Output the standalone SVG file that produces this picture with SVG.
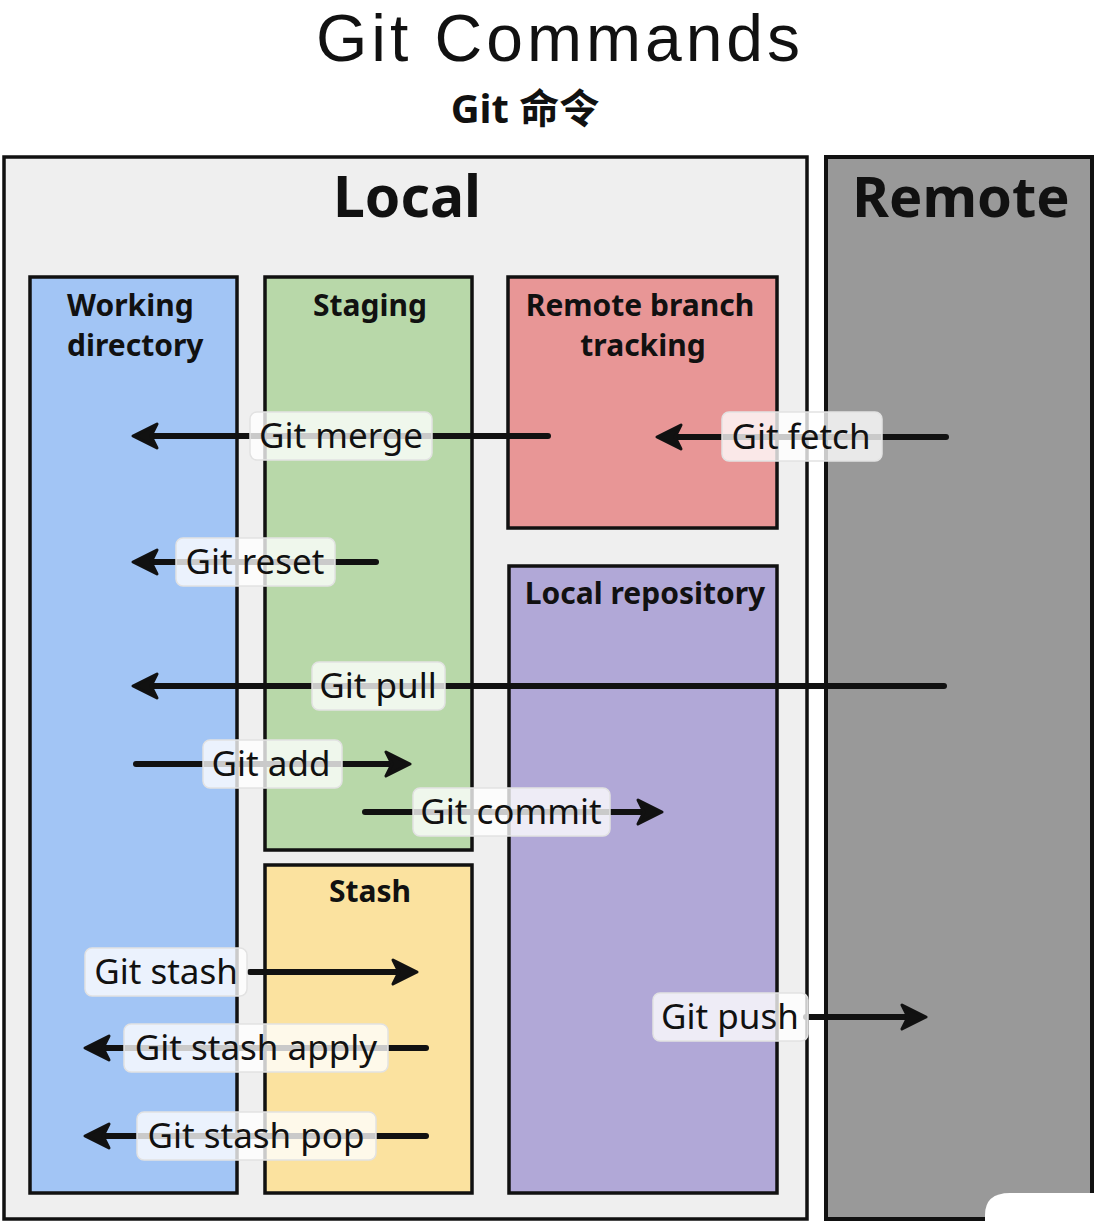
<svg xmlns="http://www.w3.org/2000/svg" width="1100" height="1221" viewBox="0 0 1100 1221">
<defs>
<style>
.ttl{font-family:"Noto Sans","Open Sans",sans-serif;fill:#111;text-anchor:middle}
.hd{font-family:"Noto Sans","Open Sans",sans-serif;font-weight:bold;fill:#111}
.bt{font-family:"Noto Sans","Open Sans",sans-serif;font-weight:bold;font-size:30px;fill:#111;text-anchor:middle}
.box{stroke:#111;stroke-width:3.5}
.lbl rect{fill:#ffffff;fill-opacity:0.78;stroke:#e2e2e2;stroke-width:1.5}
.lbl text{font-family:"Noto Sans","Open Sans",sans-serif;font-size:35px;fill:#111;text-anchor:middle}
.ln{stroke:#111;stroke-width:6;stroke-linecap:round;fill:none}
</style>
<marker id="ah" viewBox="0 0 30 30" markerWidth="30" markerHeight="30" refX="21" refY="15" orient="auto" markerUnits="userSpaceOnUse">
<path d="M3,3 L27,15 L3,27 L9,15 Z" fill="#111" stroke="#111" stroke-width="3" stroke-linejoin="round"/>
</marker>
</defs>
<rect width="1100" height="1221" fill="#ffffff"/>
<g id="title">
<text x="560" y="61" font-size="66" letter-spacing="4" style="font-family:'Liberation Sans',Arial,sans-serif;fill:#111;text-anchor:middle">Git Commands</text>
<text class="ttl" x="525" y="123" font-size="40" font-weight="bold" style="font-family:'Noto Sans','Noto Sans CJK SC',sans-serif">Git 命令</text>
</g>
<g id="local">
<rect x="4" y="157" width="803" height="1062" fill="#efefef" stroke="#111" stroke-width="3.5"/>
<text class="hd" x="407" y="217" font-size="57" text-anchor="middle">Local</text>
</g>
<g id="remote">
<rect x="826" y="157" width="266" height="1062" fill="#999999" stroke="#111" stroke-width="4"/>
<text class="hd" x="961" y="217" font-size="56" text-anchor="middle">Remote</text>
</g>
<g id="working">
<rect class="box" x="30" y="277" width="207" height="916" fill="#a2c5f5"/>
<text class="bt" x="67" y="316" style="text-anchor:start">Working</text>
<text class="bt" x="67" y="356" style="text-anchor:start">directory</text>
</g>
<g id="staging">
<rect class="box" x="265" y="277" width="207" height="573" fill="#b8d8a9"/>
<text class="bt" x="370" y="316">Staging</text>
</g>
<g id="stash">
<rect class="box" x="265" y="865" width="207" height="328" fill="#fbe29f"/>
<text class="bt" x="370" y="902">Stash</text>
</g>
<g id="remote-tracking">
<rect class="box" x="508" y="277" width="269" height="251" fill="#e89696"/>
<text class="bt" x="640" y="316">Remote branch</text>
<text class="bt" x="643" y="356">tracking</text>
</g>
<g id="local-repo">
<rect class="box" x="509" y="566" width="268" height="627" fill="#b1a8d7"/>
<text class="bt" x="645" y="604">Local repository</text>
</g>
<g id="connectors">
<path class="ln" d="M548,436 L139,436" marker-end="url(#ah)"/>
<path class="ln" d="M946,437 L663,437" marker-end="url(#ah)"/>
<path class="ln" d="M376,562 L139,562" marker-end="url(#ah)"/>
<path class="ln" d="M944,686 L139,686" marker-end="url(#ah)"/>
<path class="ln" d="M136,764 L404,764" marker-end="url(#ah)"/>
<path class="ln" d="M365,812 L656,812" marker-end="url(#ah)"/>
<path class="ln" d="M250,972 L411,972" marker-end="url(#ah)"/>
<path class="ln" d="M426,1048 L91,1048" marker-end="url(#ah)"/>
<path class="ln" d="M426,1136 L91,1136" marker-end="url(#ah)"/>
<path class="ln" d="M806,1017 L920,1017" marker-end="url(#ah)"/>
</g>
<g id="labels">
<g class="lbl" id="l-merge"><rect x="250" y="412" width="182" height="48" rx="7"/><text x="341" y="448">Git merge</text></g>
<g class="lbl" id="l-fetch"><rect x="722" y="412" width="160" height="49" rx="7"/><text x="801" y="449">Git fetch</text></g>
<g class="lbl" id="l-reset"><rect x="176" y="538" width="159" height="48" rx="7"/><text x="255" y="574">Git reset</text></g>
<g class="lbl" id="l-pull"><rect x="312" y="662" width="133" height="48" rx="7"/><text x="378" y="698">Git pull</text></g>
<g class="lbl" id="l-add"><rect x="203" y="740" width="139" height="48" rx="7"/><text x="271" y="776">Git add</text></g>
<g class="lbl" id="l-commit"><rect x="413" y="788" width="197" height="48" rx="7"/><text x="511" y="824">Git commit</text></g>
<g class="lbl" id="l-stash"><rect x="85" y="948" width="162" height="48" rx="7"/><text x="166" y="984">Git stash</text></g>
<g class="lbl" id="l-apply"><rect x="124" y="1024" width="264" height="48" rx="7"/><text x="256" y="1060">Git stash apply</text></g>
<g class="lbl" id="l-pop"><rect x="137" y="1112" width="239" height="48" rx="7"/><text x="256" y="1148">Git stash pop</text></g>
<g class="lbl" id="l-push"><rect x="653" y="993" width="155" height="48" rx="7"/><text x="730" y="1029">Git push</text></g>
</g>
<path d="M985,1221 L985,1215 Q985,1193 1010,1193 L1100,1193 L1100,1221 Z" fill="#ffffff"/>
</svg>
